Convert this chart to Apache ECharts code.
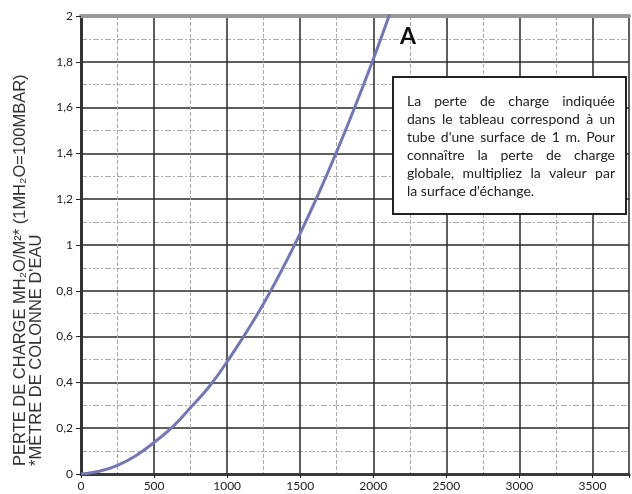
<!DOCTYPE html>
<html lang="fr">
<head>
    <meta charset="UTF-8">
    <title>Perte de charge</title>
    <style type="text/css">
        * { margin: 0; padding: 0; }
        html, body { width: 100%; height: 100%; background: #fff; }
        #chart-panel { width: 632px; height: 494px; }
    </style>
</head>
<body>
<div id="chart-panel"></div>
<script src="https://cdn.jsdelivr.net/npm/echarts@6/dist/echarts.min.js"></script>
<script>
    // débit (x) et perte de charge (y)
    let xValues = [0, 125, 250, 375, 500, 625, 750, 875, 1000, 1250, 1500, 1750, 2000, 2250];
    let yValues = [0, 0.012, 0.038, 0.08, 0.138, 0.205, 0.29, 0.38, 0.49, 0.745, 1.051, 1.408, 1.811, 2.26];

    let yTitle1 = "PERTE DE CHARGE MH\u2082O/M\u00B2* (1MH\u2082O=100MBAR)";
    let yTitle2 = "*MÈTRE DE COLONNE D'EAU";
    let curveLabel = "A";
    let noteLines = [
        "La perte de charge indiquée",
        "dans le tableau correspond à un",
        "tube d'une surface de 1 m. Pour",
        "connaître la perte de charge",
        "globale, multipliez la valeur par",
        "la surface d'échange."
    ];

    var myChart = echarts.init(document.getElementById('chart-panel'));

    // texte justifié pour l'encadré
    const noteFont = '14px Lato';
    const ctx = document.createElement('canvas').getContext('2d');
    ctx.font = noteFont;
    const boxLeft = 392, boxTop = 76, boxW = 233, boxH = 137;
    const textLeft = 407, textW = 208, firstLine = 101, lineH = 18;
    let noteTexts = [];
    noteLines.forEach((line, i) => {
        let y = firstLine + i * lineH;
        let words = line.split(' ');
        if (i === noteLines.length - 1 || words.length < 2) {
            noteTexts.push({
                type: 'text', x: textLeft, y: y, z: 20,
                style: { text: line, font: noteFont, fill: '#222', textVerticalAlign: 'middle' }
            });
            return;
        }
        let total = words.reduce((s, w) => s + ctx.measureText(w).width, 0);
        let gap = (textW - total) / (words.length - 1);
        let x = textLeft;
        words.forEach(w => {
            noteTexts.push({
                type: 'text', x: x, y: y, z: 20,
                style: { text: w, font: noteFont, fill: '#222', textVerticalAlign: 'middle' }
            });
            x += ctx.measureText(w).width + gap;
        });
    });

    var option = {
        animation: false,
        grid: { left: 81, right: -3, top: 16, bottom: 20 },
        xAxis: [{
            type: 'value',
            min: 0,
            max: 3750,
            interval: 500,
            axisLine: { lineStyle: { color: '#3a3a3a', width: 3 } },
            axisTick: { show: true, length: 4, lineStyle: { color: '#222' } },
            axisLabel: {
                color: '#222', fontSize: 12, fontFamily: 'Lato', margin: 6,
                formatter: v => (v % 500 === 0 ? String(v) : '')
            },
            splitLine: { show: true, lineStyle: { color: '#2a2a2a', width: 1.5 } },
            minorTick: { show: false, splitNumber: 2 },
            minorSplitLine: { show: true, lineStyle: { color: '#aaa', width: 1, type: [4, 2] } }
        }, {
            type: 'value',
            position: 'top',
            min: 0,
            max: 3750,
            axisLine: { show: true, lineStyle: { color: '#999', width: 4 } },
            axisTick: { show: false },
            axisLabel: { show: false },
            splitLine: { show: false }
        }],
        yAxis: [{
            type: 'value',
            min: 0,
            max: 2,
            interval: 0.2,
            axisLine: { show: true, lineStyle: { color: '#333', width: 3 } },
            axisTick: { show: true, length: 5, lineStyle: { color: '#222' } },
            axisLabel: {
                color: '#222', fontSize: 12, fontFamily: 'Lato', margin: 8,
                formatter: v => String(+v.toFixed(1)).replace('.', ',')
            },
            splitLine: { show: true, lineStyle: { color: '#2a2a2a', width: 1.5 } },
            minorTick: { show: false, splitNumber: 2 },
            minorSplitLine: { show: true, lineStyle: { color: '#aaa', width: 1, type: [6, 2, 2, 2] } }
        }],
        series: [{
            type: 'line',
            smooth: 0.4,
            showSymbol: false,
            clip: true,
            z: 10,
            lineStyle: { color: '#7378b2', width: 3 },
            data: xValues.map((x, i) => [x, yValues[i]])
        }],
        graphic: [
            {
                type: 'text', x: 20, y: 466, rotation: Math.PI / 2,
                style: { text: yTitle1, font: '16.5px "Liberation Sans"', fill: '#333', textAlign: 'left', textVerticalAlign: 'middle' }
            },
            {
                type: 'text', x: 36, y: 466, rotation: Math.PI / 2,
                style: { text: yTitle2, font: '16.5px "Liberation Sans"', fill: '#333', textAlign: 'left', textVerticalAlign: 'middle' }
            },
            {
                type: 'text', left: 400, top: 25, z: 20,
                style: { text: curveLabel, font: 'bold 23px Lato', fill: '#111' }
            },
            {
                type: 'rect', left: boxLeft, top: boxTop, z: 15,
                shape: { width: boxW, height: boxH },
                style: { fill: '#fff', stroke: '#222', lineWidth: 2 }
            }
        ].concat(noteTexts)
    };
    myChart.setOption(option);
</script>
</body>
</html>
